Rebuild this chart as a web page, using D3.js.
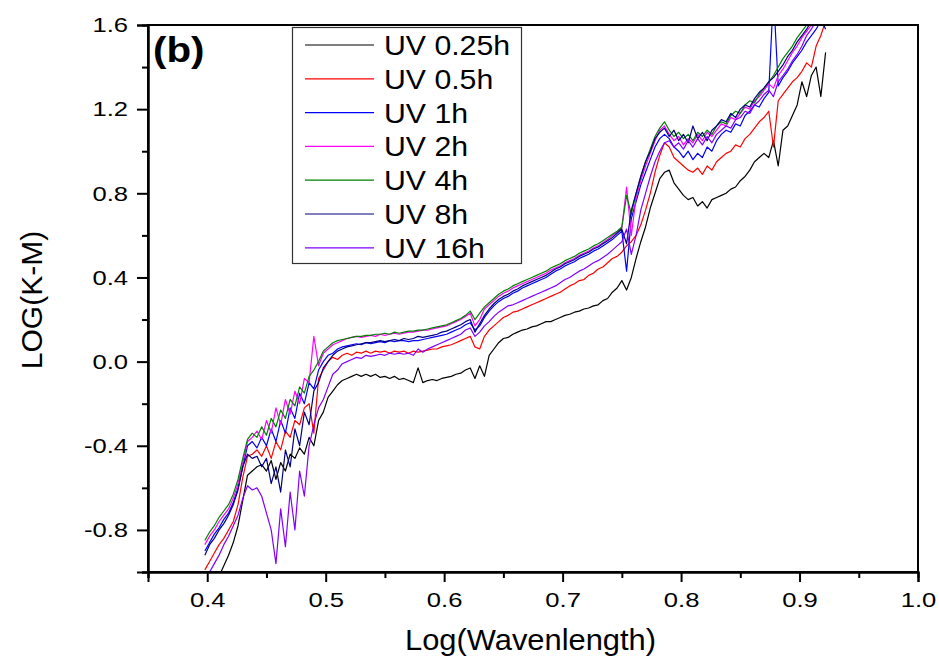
<!DOCTYPE html>
<html><head><meta charset="utf-8">
<script src="https://cdn.jsdelivr.net/npm/d3@7"></script>
<style>body{margin:0;background:#fff}svg{display:block}text{font-family:"Liberation Sans",Arial,sans-serif}</style>
</head><body><svg id="c" width="939" height="662"></svg>
<script>
const logWavelength = [0.398,0.402,0.406,0.410,0.414,0.418,0.422,0.426,0.430,0.434,0.438,0.442,0.446,0.450,0.454,0.458,0.462,0.466,0.470,0.474,0.478,0.482,0.486,0.490,0.494,0.498,0.502,0.506,0.510,0.514,0.518,0.522,0.526,0.530,0.534,0.538,0.542,0.546,0.550,0.554,0.558,0.562,0.566,0.570,0.574,0.578,0.582,0.586,0.590,0.594,0.598,0.602,0.606,0.610,0.614,0.618,0.622,0.626,0.630,0.634,0.638,0.642,0.646,0.650,0.654,0.658,0.662,0.666,0.670,0.674,0.678,0.682,0.686,0.690,0.694,0.698,0.702,0.706,0.710,0.714,0.718,0.722,0.726,0.730,0.734,0.738,0.742,0.746,0.750,0.754,0.758,0.762,0.766,0.770,0.774,0.778,0.782,0.786,0.790,0.794,0.798,0.802,0.806,0.810,0.814,0.818,0.822,0.826,0.830,0.834,0.838,0.842,0.846,0.850,0.854,0.858,0.862,0.866,0.870,0.874,0.878,0.882,0.886,0.890,0.894,0.898,0.902,0.906,0.910,0.914,0.918,0.922];

const uv025h = [-1.15,-1.12,-1.08,-1.02,-0.97,-0.92,-0.86,-0.78,-0.66,-0.54,-0.52,-0.50,-0.49,-0.52,-0.47,-0.56,-0.48,-0.52,-0.44,-0.46,-0.41,-0.44,-0.36,-0.40,-0.28,-0.24,-0.17,-0.14,-0.11,-0.09,-0.08,-0.07,-0.06,-0.07,-0.06,-0.07,-0.06,-0.075,-0.07,-0.08,-0.07,-0.085,-0.08,-0.09,-0.10,-0.03,-0.10,-0.09,-0.085,-0.09,-0.08,-0.075,-0.07,-0.06,-0.055,-0.04,-0.03,-0.08,-0.02,-0.07,0.03,0.06,0.09,0.11,0.115,0.13,0.14,0.15,0.155,0.165,0.17,0.18,0.19,0.19,0.20,0.21,0.22,0.225,0.235,0.24,0.25,0.255,0.265,0.27,0.29,0.30,0.33,0.35,0.385,0.34,0.40,0.49,0.57,0.64,0.73,0.80,0.87,0.90,0.91,0.85,0.82,0.79,0.77,0.78,0.74,0.76,0.73,0.77,0.78,0.79,0.80,0.82,0.83,0.86,0.88,0.91,0.95,0.97,0.99,0.97,1.05,0.93,1.10,1.12,1.17,1.22,1.33,1.26,1.36,1.40,1.26,1.47];
const uv05h = [-0.99,-0.95,-0.91,-0.87,-0.84,-0.80,-0.76,-0.68,-0.55,-0.45,-0.44,-0.42,-0.45,-0.40,-0.46,-0.38,-0.42,-0.33,-0.36,-0.28,-0.30,-0.22,-0.20,-0.34,-0.08,-0.04,0.00,0.02,0.01,0.03,0.04,0.03,0.045,0.04,0.05,0.04,0.05,0.045,0.05,0.04,0.05,0.045,0.05,0.04,0.05,0.045,0.05,0.055,0.06,0.06,0.07,0.075,0.08,0.09,0.10,0.11,0.12,0.07,0.06,0.12,0.15,0.17,0.19,0.21,0.22,0.235,0.24,0.25,0.26,0.27,0.28,0.29,0.30,0.31,0.32,0.33,0.345,0.36,0.37,0.385,0.39,0.41,0.42,0.44,0.45,0.47,0.49,0.50,0.52,0.55,0.57,0.60,0.65,0.72,0.80,0.90,0.98,1.04,1.02,0.97,0.95,0.93,0.91,0.90,0.92,0.89,0.93,0.91,0.95,0.97,0.99,1.00,1.03,1.02,1.06,1.08,1.11,1.14,1.16,1.19,1.02,1.24,1.27,1.30,1.33,1.35,1.38,1.42,1.40,1.50,1.55,1.62];
const uv1h = [-0.90,-0.86,-0.82,-0.79,-0.75,-0.72,-0.67,-0.60,-0.50,-0.40,-0.38,-0.41,-0.36,-0.40,-0.32,-0.38,-0.28,-0.34,-0.22,-0.27,-0.15,-0.20,-0.10,-0.13,-0.04,0.00,0.03,0.04,0.06,0.07,0.075,0.08,0.085,0.08,0.09,0.085,0.09,0.095,0.09,0.10,0.095,0.10,0.10,0.095,0.10,0.10,0.105,0.11,0.115,0.12,0.125,0.13,0.14,0.15,0.16,0.175,0.185,0.15,0.17,0.21,0.24,0.265,0.285,0.30,0.31,0.325,0.335,0.35,0.36,0.37,0.38,0.39,0.40,0.415,0.43,0.44,0.455,0.465,0.475,0.49,0.50,0.51,0.525,0.535,0.55,0.565,0.58,0.60,0.62,0.43,0.68,0.76,0.84,0.90,0.96,1.02,1.06,1.08,1.06,1.02,1.00,0.97,1.00,0.96,0.99,0.97,1.02,1.00,1.05,1.08,1.10,1.09,1.13,1.12,1.17,1.19,1.22,1.21,1.25,1.28,1.75,1.31,1.35,1.38,1.42,1.45,1.48,1.52,1.55,1.58,1.62,1.65];
const uv2h = [-0.87,-0.83,-0.80,-0.76,-0.73,-0.70,-0.65,-0.58,-0.48,-0.38,-0.36,-0.33,-0.37,-0.28,-0.34,-0.22,-0.30,-0.18,-0.25,-0.14,-0.20,-0.08,-0.10,0.12,-0.02,0.04,0.06,0.08,0.09,0.10,0.11,0.115,0.12,0.115,0.12,0.125,0.12,0.13,0.125,0.13,0.135,0.13,0.135,0.14,0.14,0.145,0.15,0.15,0.155,0.16,0.165,0.17,0.18,0.19,0.20,0.215,0.23,0.17,0.20,0.25,0.27,0.29,0.31,0.325,0.335,0.35,0.36,0.37,0.38,0.39,0.40,0.41,0.42,0.435,0.445,0.455,0.47,0.48,0.49,0.505,0.515,0.525,0.54,0.55,0.565,0.58,0.60,0.615,0.635,0.83,0.60,0.78,0.86,0.93,0.99,1.05,1.10,1.12,1.08,1.05,1.07,1.03,1.06,1.04,1.08,1.05,1.09,1.07,1.10,1.13,1.12,1.16,1.15,1.18,1.21,1.20,1.24,1.26,1.29,1.32,1.30,1.36,1.39,1.43,1.47,1.50,1.54,1.57,1.60,1.63,1.62,1.66];
const uv4h = [-0.85,-0.81,-0.78,-0.74,-0.71,-0.68,-0.63,-0.56,-0.46,-0.37,-0.34,-0.36,-0.31,-0.35,-0.27,-0.31,-0.23,-0.27,-0.18,-0.21,-0.12,-0.15,-0.07,-0.04,0.00,0.05,0.07,0.09,0.10,0.105,0.11,0.115,0.12,0.12,0.125,0.125,0.13,0.13,0.135,0.13,0.14,0.135,0.14,0.145,0.145,0.15,0.15,0.155,0.16,0.165,0.17,0.175,0.185,0.195,0.205,0.22,0.24,0.20,0.23,0.26,0.28,0.30,0.32,0.335,0.345,0.36,0.37,0.38,0.39,0.40,0.41,0.42,0.43,0.445,0.455,0.465,0.48,0.49,0.50,0.515,0.525,0.535,0.55,0.56,0.575,0.59,0.605,0.62,0.64,0.79,0.70,0.80,0.88,0.95,1.01,1.07,1.11,1.14,1.10,1.07,1.09,1.06,1.08,1.05,1.09,1.07,1.10,1.08,1.12,1.14,1.13,1.17,1.19,1.18,1.22,1.24,1.23,1.27,1.30,1.33,1.36,1.40,1.44,1.47,1.50,1.54,1.57,1.60,1.63,1.65,1.64,1.68];
const uv8h = [-0.92,-0.87,-0.84,-0.80,-0.77,-0.73,-0.68,-0.61,-0.50,-0.44,-0.46,-0.45,-0.50,-0.46,-0.58,-0.50,-0.62,-0.42,-0.50,-0.32,-0.40,-0.24,-0.30,-0.14,-0.10,-0.03,0.00,0.03,0.05,0.06,0.07,0.075,0.08,0.085,0.09,0.09,0.095,0.10,0.095,0.10,0.105,0.10,0.11,0.105,0.11,0.12,0.115,0.12,0.125,0.13,0.14,0.145,0.155,0.165,0.175,0.19,0.20,0.14,0.18,0.22,0.25,0.275,0.295,0.31,0.32,0.335,0.345,0.36,0.37,0.38,0.39,0.40,0.41,0.425,0.44,0.45,0.465,0.475,0.485,0.50,0.51,0.52,0.535,0.545,0.56,0.575,0.59,0.61,0.63,0.56,0.72,0.80,0.88,0.95,1.00,1.06,1.09,1.11,1.07,1.10,1.05,1.08,1.04,1.12,1.06,1.09,1.05,1.10,1.12,1.15,1.14,1.18,1.16,1.20,1.22,1.21,1.25,1.28,1.30,1.33,1.35,1.38,1.41,1.45,1.48,1.52,1.55,1.58,1.62,1.60,1.63,1.58];
const uv16h = [-1.05,-1.00,-0.96,-0.92,-0.87,-0.83,-0.78,-0.73,-0.65,-0.59,-0.61,-0.60,-0.64,-0.72,-0.80,-0.96,-0.70,-0.88,-0.62,-0.80,-0.52,-0.64,-0.40,-0.30,-0.22,-0.18,-0.12,-0.06,-0.04,-0.01,0.00,0.01,0.02,0.015,0.03,0.025,0.03,0.035,0.03,0.04,0.035,0.04,0.035,0.04,0.03,0.06,0.045,0.06,0.07,0.08,0.09,0.10,0.11,0.12,0.13,0.15,0.16,0.12,0.14,0.17,0.19,0.215,0.235,0.25,0.265,0.27,0.28,0.29,0.30,0.31,0.32,0.33,0.34,0.35,0.36,0.375,0.39,0.40,0.415,0.43,0.44,0.455,0.47,0.48,0.495,0.51,0.53,0.55,0.57,0.63,0.51,0.60,0.72,0.80,0.88,0.95,1.00,1.04,1.05,1.02,1.04,1.01,1.05,1.02,1.06,1.03,1.07,1.04,1.08,1.10,1.12,1.11,1.15,1.16,1.19,1.18,1.22,1.24,1.27,1.29,1.26,1.33,1.36,1.39,1.43,1.46,1.50,1.55,1.58,1.62,1.60,1.65];

const seriesNames = ["UV 0.25h","UV 0.5h","UV 1h","UV 2h","UV 4h","UV 8h","UV 16h"];
const seriesValues = [uv025h, uv05h, uv1h, uv2h, uv4h, uv8h, uv16h];
const seriesColors = ["#000000","#ff0000","#0000ff","#ff00ff","#008000","#000080","#8000ff"];
const xTicks = [0.4,0.5,0.6,0.7,0.8,0.9,1.0];
const yTicks = [-0.8,-0.4,0.0,0.4,0.8,1.2,1.6];

const svg = d3.select("#c");
const L = 148, R = 918, T = 25, B = 572;
const x = d3.scaleLinear().domain([0.35, 1.0]).range([L, R]);
const y = d3.scaleLinear().domain([-1.0, 1.6]).range([B, T]);

svg.append("clipPath").attr("id","clip").append("rect")
  .attr("x", L).attr("y", T).attr("width", R - L).attr("height", B - T);

const line = d3.line().x(d => x(d[0])).y(d => y(d[1]));
const g = svg.append("g").attr("clip-path","url(#clip)");
seriesValues.forEach((vals, k) => {
  g.append("path")
    .datum(logWavelength.map((w, i) => [w, vals[i]]))
    .attr("d", line).attr("fill","none")
    .attr("stroke", seriesColors[k]).attr("stroke-width", 1.2)
    .attr("stroke-linejoin","round");
});

// frame
svg.append("rect").attr("x", L).attr("y", T).attr("width", R - L).attr("height", B - T)
  .attr("fill","none").attr("stroke","#000").attr("stroke-width", 2);

const fmt = d => d.toFixed(1);
const SX = 1.22; // horizontal stretch of tick labels seen in the reference
// bottom axis
const xAxis = svg.append("g").attr("transform", `translate(0,${B})`)
  .call(d3.axisBottom(x).tickValues(xTicks).tickFormat(fmt).tickSize(10).tickPadding(10));
const xMinor = svg.append("g").attr("transform", `translate(0,${B})`)
  .call(d3.axisBottom(x).tickValues([0.35,0.45,0.55,0.65,0.75,0.85,0.95]).tickFormat("").tickSize(6));
// left axis
const yAxis = svg.append("g").attr("transform", `translate(${L},0)`)
  .call(d3.axisLeft(y).tickValues(yTicks).tickFormat(fmt).tickSize(11).tickPadding(9));
const yMinor = svg.append("g").attr("transform", `translate(${L},0)`)
  .call(d3.axisLeft(y).tickValues([-1.0,-0.6,-0.2,0.2,0.6,1.0,1.4]).tickFormat("").tickSize(6));
[xAxis, xMinor, yAxis, yMinor].forEach(a => {
  a.select(".domain").attr("stroke-width", 2);
  a.selectAll(".tick line").attr("stroke-width", 2);
  a.selectAll("text").attr("font-size", 21).attr("fill","#000")
    .style("font-family","'Liberation Sans',Arial,sans-serif");
});
xAxis.selectAll(".tick text").attr("transform", `scale(${SX},1)`);
yAxis.selectAll(".tick text").each(function(){
  const t = d3.select(this);
  t.attr("x", +t.attr("x") / SX).attr("transform", `scale(${SX},1)`);
});

// axis titles
svg.append("text").attr("x", 405).attr("y", 650)
  .attr("font-size", 29).attr("textLength", 251).attr("lengthAdjust","spacingAndGlyphs")
  .text("Log(Wavenlength)");
svg.append("text").attr("transform","translate(42,300) rotate(-90)").attr("text-anchor","middle")
  .attr("font-size", 30).text("LOG(K-M)");

svg.append("text").attr("transform","translate(153,62) scale(1.12,1)")
  .attr("font-size", 36).attr("font-weight","bold").text("(b)");

// legend
const lg = svg.append("g");
lg.append("rect").attr("x", 292.5).attr("y", 27.5).attr("width", 229).attr("height", 236)
  .attr("fill","#fff").attr("stroke","#333").attr("stroke-width", 1.2);
seriesNames.forEach((n, k) => {
  const yy = 45 + k * 33.8;
  lg.append("line").attr("x1", 305).attr("x2", 374).attr("y1", yy).attr("y2", yy)
    .attr("stroke", seriesColors[k]).attr("stroke-width", 1.2);
  lg.append("text").attr("transform", `translate(384,${yy + 10}) scale(1.08,1)`)
    .attr("font-size", 28).text(n);
});
</script></body></html>
